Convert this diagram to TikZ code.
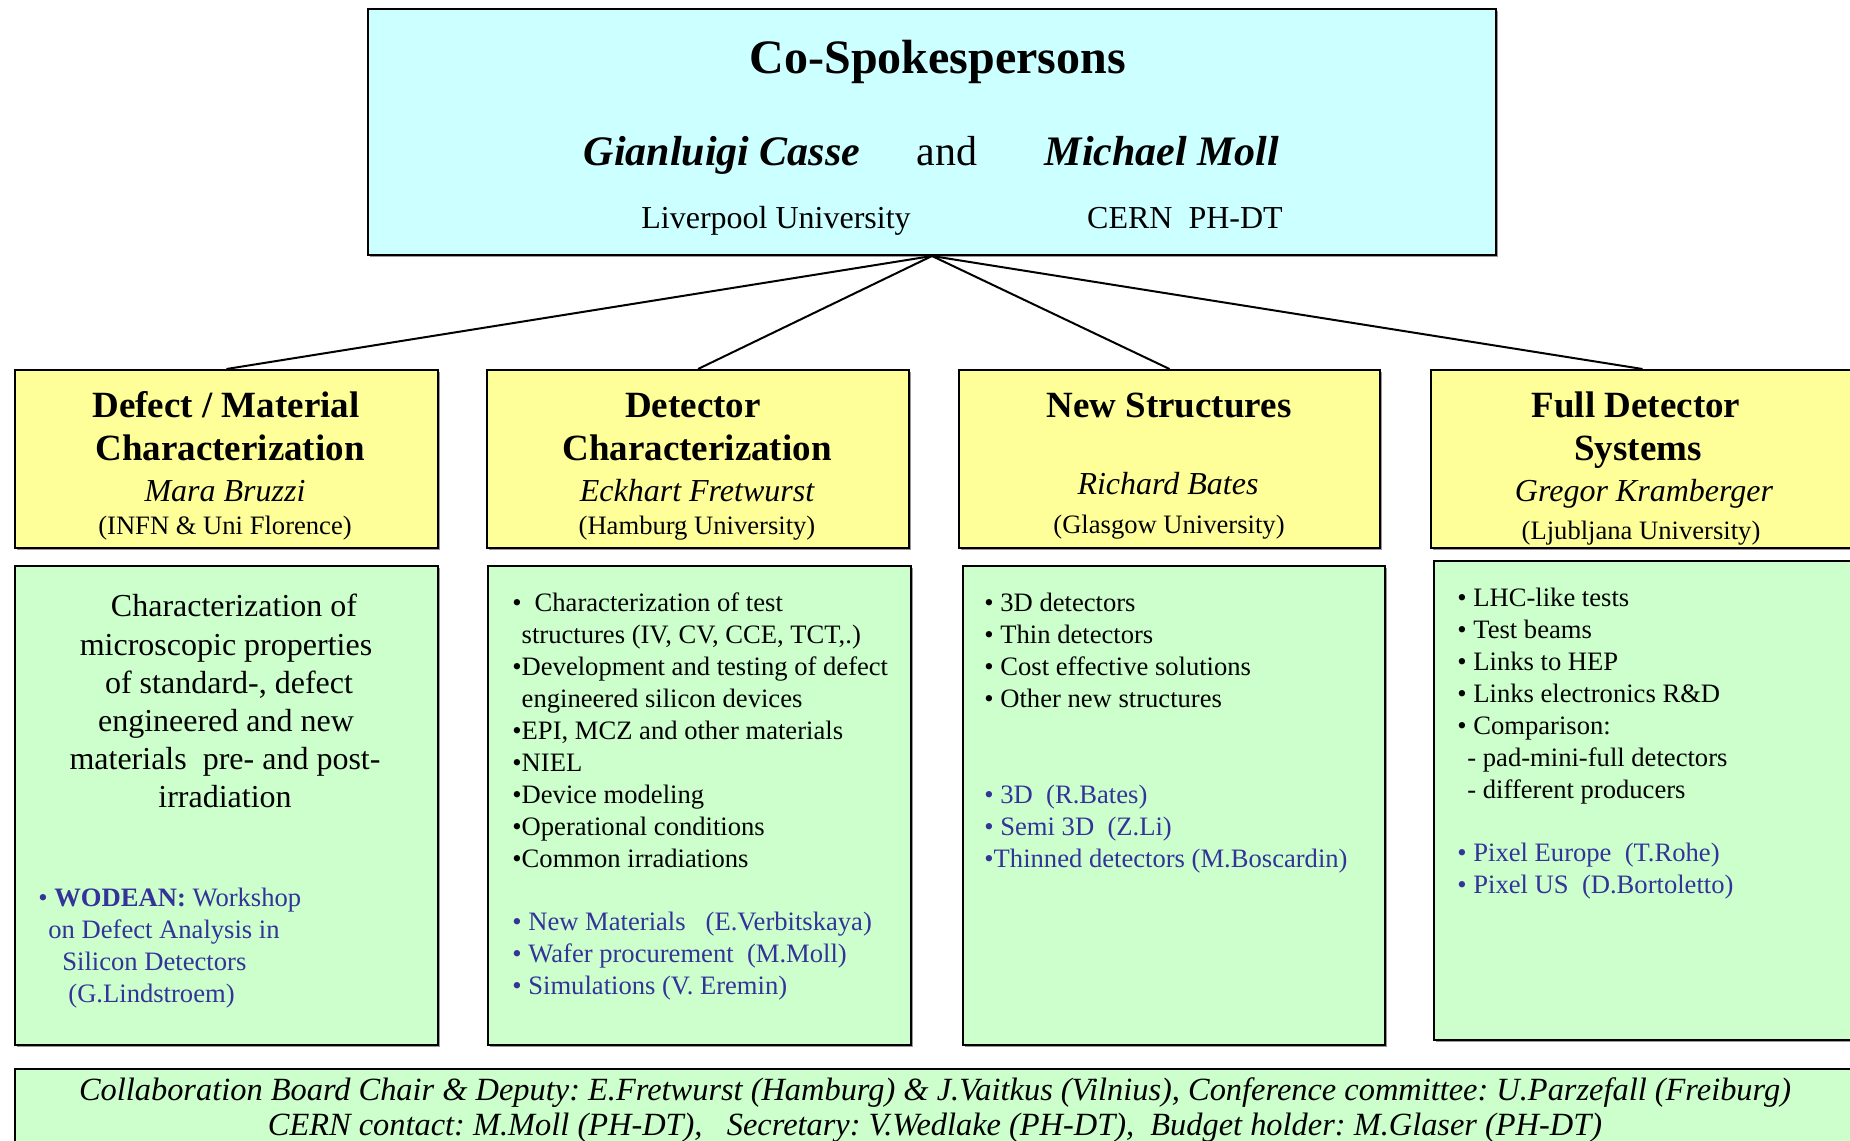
\documentclass[tikz,border=0pt]{standalone}
\usepackage{fontspec}
\setmainfont{Liberation Serif}
\usetikzlibrary{shadows}
\definecolor{cyanbg}{HTML}{CCFFFF}
\definecolor{yellowbg}{HTML}{FFFF99}
\definecolor{greenbg}{HTML}{CCFFCC}
\definecolor{bluetxt}{HTML}{333399}
\newcommand{\setfs}[2]{\fontsize{#1}{#2}\selectfont}
\frenchspacing
\begin{document}
\begin{tikzpicture}[x=0.5pt,y=-0.5pt,
  boxbase/.style={draw=black, line width=1pt, rectangle, inner sep=0pt, anchor=north west,
     general shadow={fill=black!40, shadow xshift=1pt, shadow yshift=-1pt}},
  topbox/.style={boxbase, fill=cyanbg},
  ybox/.style={boxbase, fill=yellowbg, minimum height=89pt},
  gbox/.style={boxbase, fill=greenbg, minimum height=239.5pt},
  link/.style={draw=black, line width=1pt},
  tc/.style={inner sep=0pt, anchor=base},
  tl/.style={inner sep=0pt, anchor=base west},
  ttl/.style={tc, font=\setfs{18.5}{22}\bfseries},
  who/.style={tc, font=\setfs{16}{19}\itshape},
  aff/.style={tc, font=\setfs{13.3}{16}},
  lst/.style={tl, font=\setfs{13.3}{16}},
  blst/.style={lst, text=bluetxt},
  foot/.style={tc, font=\setfs{16.2}{20}\itshape},
]
\useasboundingbox (0,0) rectangle (1850,1140);
\clip (0,0) rectangle (1850,1140);
\fill[white] (0,0) rectangle (1850,1140);

% top box
\node[topbox, minimum width=564pt, minimum height=123pt] (top) at (367,8) {};
\node[tc, font=\setfs{24}{28}\bfseries] (cosp) at (938,73) {Co-Spokespersons};
\node[tc, font=\setfs{21}{25}\bfseries\itshape] (casse) at (722,165) {Gianluigi Casse};
\node[tc, font=\setfs{21}{25}] (and) at (947,165) {and};
\node[tc, font=\setfs{21}{25}\bfseries\itshape] (moll) at (1162,165) {Michael Moll};
\node[tc, font=\setfs{16}{19}] (liv) at (776,228) {Liverpool University};
\node[tc, font=\setfs{16}{19}] (cern) at (1185,228) {CERN\ \ PH-DT};

% yellow boxes
\node[ybox, minimum width=211.5pt] (y1) at (14,369) {};
\node[ybox, minimum width=211pt] (y2) at (486,369) {};
\node[ybox, minimum width=210.5pt] (y3) at (958,369) {};
\node[ybox, minimum width=211.5pt] (y4) at (1430,369) {};

\draw[link] (top.south) -- (y1.north);
\draw[link] (top.south) -- (y2.north);
\draw[link] (top.south) -- (y3.north);
\draw[link] (top.south) -- (y4.north);

\node[ttl] (y1a) at (226,417) {Defect / Material};
\node[ttl] (y1b) at (230,460) {Characterization};
\node[who] (y1c) at (225,501) {Mara Bruzzi};
\node[aff] (y1d) at (225,534) {(INFN \& Uni Florence)};

\node[ttl] (y2a) at (693,417) {Detector};
\node[ttl] (y2b) at (697,460) {Characterization};
\node[who] (y2c) at (697,501) {Eckhart Fretwurst};
\node[aff] (y2d) at (697,534) {(Hamburg University)};

\node[ttl] (y3a) at (1169,417) {New Structures};
\node[who] (y3c) at (1168,494) {Richard Bates};
\node[aff] (y3d) at (1169,533) {(Glasgow University)};

\node[ttl] (y4a) at (1636,417) {Full Detector};
\node[ttl] (y4b) at (1638,460) {Systems};
\node[who] (y4c) at (1644,501) {Gregor Kramberger};
\node[aff] (y4d) at (1641,539) {(Ljubljana University)};

% green boxes
\node[gbox, minimum width=211.5pt] (g1) at (14,565) {};
\node[gbox, minimum width=211.5pt] (g2) at (487,565) {};
\node[gbox, minimum width=211pt] (g3) at (962,565) {};
\node[gbox, minimum width=211.5pt] (g4) at (1433,560) {};

% box 1
\node[tc, font=\setfs{16}{19}] (g1a) at (234,616) {Characterization of};
\node[tc, font=\setfs{16}{19}] (g1b) at (226,655) {microscopic properties};
\node[tc, font=\setfs{16}{19}] (g1c) at (229,693) {of standard-, defect};
\node[tc, font=\setfs{16}{19}] (g1d) at (226,731) {engineered and new};
\node[tc, font=\setfs{16}{19}] (g1e) at (225,769) {materials\ \ pre- and post-};
\node[tc, font=\setfs{16}{19}] (g1f) at (225,807) {irradiation};
\node[blst] (g1g) at (38,906) {\textbullet\ \textbf{WODEAN:} Workshop};
\node[blst] (g1h) at (48,938) {on Defect Analysis in};
\node[blst] (g1i) at (62,970) {Silicon Detectors};
\node[blst] (g1j) at (68,1002) {(G.Lindstroem)};

% box 2
\foreach \s [count=\i from 0] in {
  {\textbullet\hspace{6.5pt}Characterization of test},
  {\phantom{\textbullet}structures (IV, CV, CCE, TCT,.)},
  {\textbullet Development and testing of defect},
  {\phantom{\textbullet}engineered silicon devices},
  {\textbullet EPI, MCZ and other materials},
  {\textbullet NIEL},
  {\textbullet Device modeling},
  {\textbullet Operational conditions},
  {\textbullet Common irradiations}}
  \node[lst] (g2l\i) at (512,611+32*\i) {\s};
\foreach \s [count=\i from 0] in {
  {\textbullet\ New Materials\ \ \ (E.Verbitskaya)},
  {\textbullet\ Wafer procurement\ \ (M.Moll)},
  {\textbullet\ Simulations (V. Eremin)}}
  \node[blst] (g2b\i) at (512,930+32*\i) {\s};

% box 3
\foreach \s [count=\i from 0] in {
  {\textbullet\ 3D detectors},
  {\textbullet\ Thin detectors},
  {\textbullet\ Cost effective solutions},
  {\textbullet\ Other new structures}}
  \node[lst] (g3l\i) at (984,611+32*\i) {\s};
\foreach \s [count=\i from 0] in {
  {\textbullet\ 3D\ \ (R.Bates)},
  {\textbullet\ Semi 3D\ \ (Z.Li)},
  {\textbullet Thinned detectors (M.Boscardin)}}
  \node[blst] (g3b\i) at (984,803+32*\i) {\s};

% box 4
\foreach \s [count=\i from 0] in {
  {\textbullet\ LHC-like tests},
  {\textbullet\ Test beams},
  {\textbullet\ Links to HEP},
  {\textbullet\ Links electronics R\&D},
  {\textbullet\ Comparison:},
  {\hspace{5pt}- pad-mini-full detectors},
  {\hspace{5pt}- different producers}}
  \node[lst] (g4l\i) at (1457,606+32*\i) {\s};
\foreach \s [count=\i from 0] in {
  {\textbullet\ Pixel Europe\ \ (T.Rohe)},
  {\textbullet\ Pixel US\ \ (D.Bortoletto)}}
  \node[blst] (g4b\i) at (1457,861+32*\i) {\s};

% bottom box
\node[boxbase, fill=greenbg, minimum width=960pt, minimum height=80pt] (bot) at (14,1068) {};
\node[foot] (bot1) at (935,1100) {Collaboration Board Chair \& Deputy: E.Fretwurst (Hamburg) \& J.Vaitkus (Vilnius), Conference committee: U.Parzefall (Freiburg)};
\node[foot] (bot2) at (935,1135) {CERN contact: M.Moll (PH-DT),\ \ \ Secretary: V.Wedlake (PH-DT),\ \ Budget holder: M.Glaser (PH-DT)};
\end{tikzpicture}
\end{document}
